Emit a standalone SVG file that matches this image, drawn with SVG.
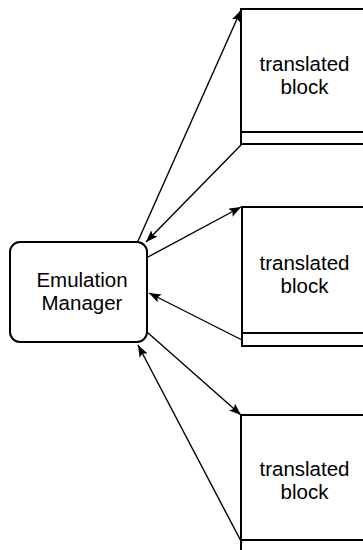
<svg xmlns="http://www.w3.org/2000/svg" width="363" height="550" viewBox="0 0 363 550">
<style>
.blk{fill:#fff;stroke:#000;stroke-width:2}
.sep{stroke:#000;stroke-width:2}
.em{fill:#fff;stroke:#000;stroke-width:2}
.t{font-family:"Liberation Sans",Arial,Helvetica,sans-serif;font-size:20.5px;fill:#000;text-anchor:middle}
.c{stroke:#000;stroke-width:1.4;fill:none;marker-end:url(#ah)}
</style>
<defs>
<marker id="ah" markerUnits="userSpaceOnUse" markerWidth="13" markerHeight="10" refX="12" refY="4.5" orient="auto">
<path d="M0,0 L12,4.5 L0,9 L2.5,4.5 z" fill="#000"/>
</marker>
</defs>
<rect width="363" height="550" fill="#fff"/>
<g id="block1">
<rect class="blk" x="241" y="9" width="130" height="135"/>
<line class="sep" x1="241" y1="132" x2="371" y2="132"/>
<text class="t" x="304.5" y="71">translated</text>
<text class="t" x="304.5" y="94">block</text>
</g>
<g id="block2">
<rect class="blk" x="242" y="207" width="130" height="139"/>
<line class="sep" x1="242" y1="333" x2="372" y2="333"/>
<text class="t" x="304.5" y="270">translated</text>
<text class="t" x="304.5" y="293">block</text>
</g>
<g id="block3">
<rect class="blk" x="241" y="415" width="130" height="145"/>
<line class="sep" x1="241" y1="540" x2="371" y2="540"/>
<text class="t" x="304.5" y="476">translated</text>
<text class="t" x="304.5" y="499">block</text>
</g>
<g id="emulation-manager">
<rect class="em" x="10" y="242" width="137" height="100" rx="10" ry="10"/>
<text class="t" x="82" y="287">Emulation</text>
<text class="t" x="82" y="310">Manager</text>
</g>
<g id="connectors">
<line class="c" x1="138" y1="241" x2="241" y2="10"/>
<line class="c" x1="241" y1="145" x2="146" y2="242"/>
<line class="c" x1="148" y1="257" x2="241" y2="207"/>
<line class="c" x1="242" y1="340" x2="149" y2="293"/>
<line class="c" x1="147" y1="332" x2="241" y2="415"/>
<line class="c" x1="242" y1="543" x2="138" y2="345"/>
</g>
</svg>
